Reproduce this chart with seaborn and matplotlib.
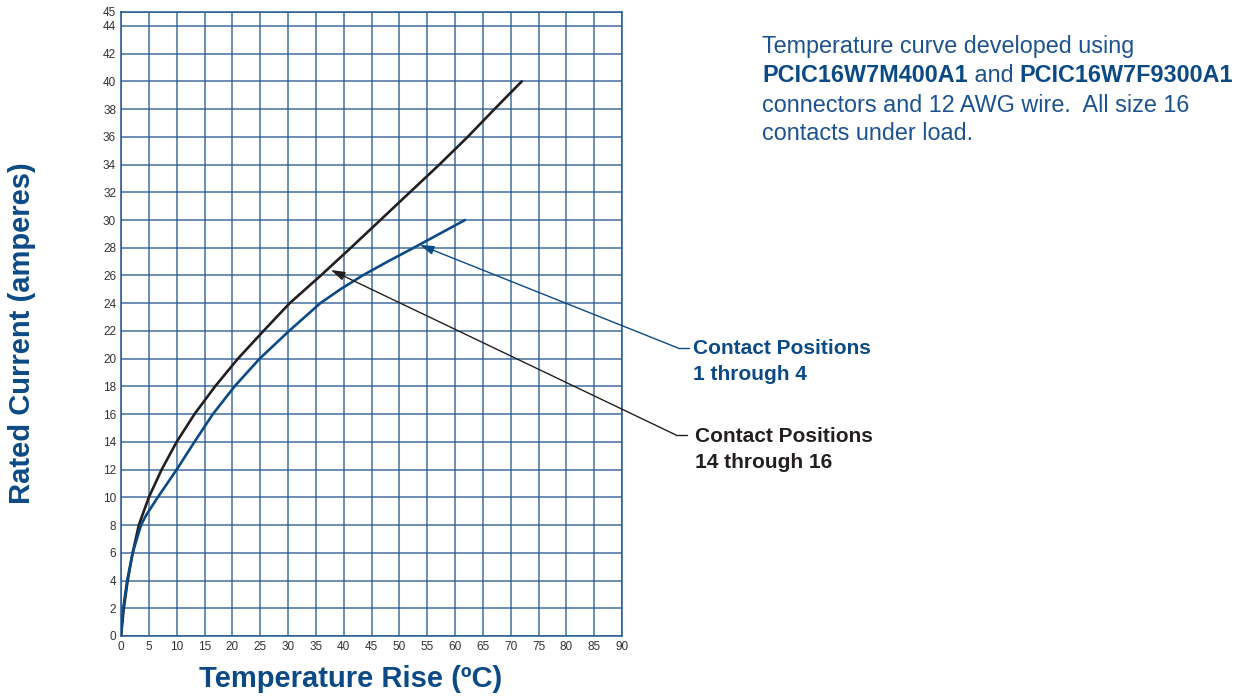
import matplotlib
matplotlib.use("Agg")
import matplotlib.pyplot as plt
from matplotlib.lines import Line2D
import seaborn as sns
import pandas as pd

# ---- data ----
black_temp = [0, 0.5, 1.2, 2.1, 3.2, 5.0, 7.3, 10.0, 13.2, 16.9, 21.0, 25.6, 30.3, 35.9, 41.3, 46.6, 51.9, 57.2, 62.3, 67.1, 72.0]
black_curr = [0, 2, 4, 6, 8, 10, 12, 14, 16, 18, 20, 22, 24, 26, 28, 30, 32, 34, 36, 38, 40]
blue_temp = [0, 0.4, 1.1, 2.1, 3.6, 4.5, 6.6, 10.0, 13.2, 16.5, 20.4, 24.9, 30.2, 35.8, 39.4, 43.4, 47.9, 52.6, 57.2, 61.8]
blue_curr = [0, 2, 4, 6, 8, 8.7, 10, 12, 14, 16, 18, 20, 22, 24, 25, 26, 27, 28, 29, 30]
x_ticks = list(range(0, 91, 5))
y_ticks = list(range(0, 45, 2)) + [45]
label_blue = "Contact Positions\n1 through 4"
label_black = "Contact Positions\n14 through 16"
arrow_blue = (53.7, 28.2)
arrow_black = (37.7, 26.4)

NAVY = "#0b4a86"
GRID = "#245790"
BLACK = "#231f20"
TICK = "#333333"

sns.set_style("white")
plt.rcParams["font.family"] = ["Liberation Sans", "DejaVu Sans"]

W, H = 1252, 696
fig = plt.figure(figsize=(W / 100, H / 100), dpi=100)
fx = lambda px: px / W
fy = lambda py: 1 - py / H
ax = fig.add_axes([fx(121), fy(636), (622 - 121) / W, (636 - 12) / H])

df_black = pd.DataFrame({"temp": black_temp, "curr": black_curr})
df_blue = pd.DataFrame({"temp": blue_temp, "curr": blue_curr})
sns.lineplot(data=df_black, x="temp", y="curr", ax=ax, color=BLACK, lw=1.9, sort=False,
             estimator=None, zorder=3, solid_joinstyle="round", solid_capstyle="round")
sns.lineplot(data=df_blue, x="temp", y="curr", ax=ax, color=NAVY, lw=1.9, sort=False,
             estimator=None, zorder=3, solid_joinstyle="round", solid_capstyle="round")

ax.set_xlim(0, 90)
ax.set_ylim(0, 45)
ax.set_xticks(x_ticks)
ax.set_yticks(y_ticks)
ax.tick_params(axis="both", length=0, pad=3.5, labelsize=8.5, colors=TICK)
ax.grid(True, color=GRID, lw=1.1, alpha=0.85)
for s in ax.spines.values():
    s.set_color(GRID)
    s.set_linewidth(1.1)
ax.set_xlabel("")
ax.set_ylabel("")

fig.text(fx(351), fy(679), "Temperature Rise (ºC)", ha="center", va="center",
         fontsize=21, fontweight="bold", color=NAVY)
fig.text(fx(22), fy(333), "Rated Current (amperes)", ha="center", va="center",
         rotation=90, fontsize=21, fontweight="bold", color=NAVY)

# annotations
def callout(tip, elbow, end, text_pos, label, color):
    ax.annotate("", xy=tip, xycoords="data", xytext=(fx(elbow[0]), fy(elbow[1])),
                textcoords="figure fraction", annotation_clip=False,
                arrowprops=dict(arrowstyle="-|>,head_length=0.7,head_width=0.22", color=color,
                                lw=1.0, shrinkA=0, shrinkB=0, mutation_scale=12))
    fig.add_artist(Line2D([fx(elbow[0]), fx(end)], [fy(elbow[1])] * 2, color=color, lw=1.0,
                          transform=fig.transFigure))
    lines = label.split("\n")
    for i, ln in enumerate(lines):
        fig.text(fx(text_pos[0]), fy(text_pos[1] + 26 * i), ln, ha="left", va="center",
                 fontsize=15, fontweight="bold", color=color)

callout(arrow_blue, (678, 348), 689, (693, 348), label_blue, NAVY)
callout(arrow_black, (676, 435), 687, (695, 437), label_black, BLACK)

# top-right note
NOTE = "#1d5290"
fs = 16.8
fig.text(fx(762), fy(46), "Temperature curve developed using", ha="left", va="center", fontsize=fs, color=NOTE)
fig.text(fx(762), fy(105), "connectors and 12 AWG wire.  All size 16", ha="left", va="center", fontsize=fs, color=NOTE)
fig.text(fx(762), fy(134), "contacts under load.", ha="left", va="center", fontsize=fs, color=NOTE)
pieces = [("PCIC16W7M400A1", "bold"), (" and ", "normal"), ("PCIC16W7F9300A1", "bold")]
fig.canvas.draw()
r = fig.canvas.get_renderer()
xpos = 762
for txt, wt in pieces:
    t = fig.text(fx(xpos), fy(76), txt, ha="left", va="center", fontsize=fs,
                 fontweight=wt, color=NAVY if wt == "bold" else NOTE)
    bb = t.get_window_extent(renderer=r)
    xpos += bb.width

fig.savefig("out.png", dpi=100)
